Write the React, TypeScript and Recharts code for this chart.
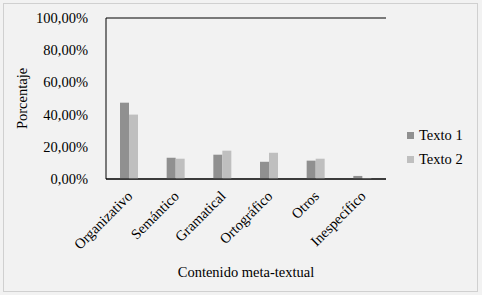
import { BarChart, Bar, XAxis, YAxis, CartesianGrid } from "recharts";

const categories = ["Organizativo", "Semántico", "Gramatical", "Ortográfico", "Otros", "Inespecífico"];
const texto1 = [47.4, 13.2, 15.1, 10.7, 11.4, 1.9];
const texto2 = [40.0, 12.6, 17.6, 16.3, 12.6, 0.6];
const yTicks = [0, 20, 40, 60, 80, 100];

const COLORS = {
  texto1: "#909090",
  texto2: "#bfbfbf"
};

const FONT = "Liberation Serif, Times New Roman, serif";

const data = categories.map((name, i) => ({
  name,
  t1: texto1[i],
  t2: texto2[i]
}));

const formatPct = (v: number) => `${v.toFixed(2).replace(".", ",")}%`;

const CategoryTick = (props: { x: number; y: number; payload: { value: string } }) => {
  const { x, y, payload } = props;
  return (
    <text
      x={x + 4}
      y={y + 10}
      textAnchor="end"
      style={{ fontFamily: FONT, fontSize: 14.5 }}
      fill="#000"
      transform={`rotate(-45, ${x + 4}, ${y + 10})`}
    >
      {payload.value}
    </text>
  );
};

const ValueTick = (props: { x: number; y: number; payload: { value: number } }) => {
  const { x, y, payload } = props;
  return (
    <text x={x} y={y} dy={5} textAnchor="end" fill="#000" style={{ fontFamily: FONT, fontSize: 14.5 }}>
      {formatPct(payload.value)}
    </text>
  );
};

const legendItems = [
  { label: "Texto 1", color: COLORS.texto1 },
  { label: "Texto 2", color: COLORS.texto2 }
];

export default function App() {
  return (
    <div
      style={{
        position: "fixed",
        left: 0,
        top: 0,
        width: 482,
        height: 295,
        background: "#f2f2f2",
        fontFamily: FONT
      }}
    >
      <div
        style={{
          position: "absolute",
          left: 3,
          top: 3,
          width: 475,
          height: 289,
          border: "1px solid #d0d0d0",
          boxSizing: "border-box"
        }}
      />
      <BarChart
        width={482}
        height={295}
        data={data}
        margin={{ top: 18, right: 96, left: 0, bottom: 0 }}
        barGap={0}
        barSize={9}
        style={{ fontFamily: FONT }}
      >
        <CartesianGrid vertical={false} stroke="#000" strokeWidth={1} />
        <XAxis
          dataKey="name"
          tick={CategoryTick}
          tickLine={false}
          axisLine={{ stroke: "#000" }}
          interval={0}
          height={116}
          label={{ value: "Contenido meta-textual", position: "insideBottom", offset: 18, style: { fontFamily: FONT, fontSize: 14.5, fill: "#000" } }}
        />
        <YAxis
          yAxisId="left"
          domain={[0, 100]}
          ticks={yTicks}
          tick={ValueTick}
          tickLine={false}
          axisLine={{ stroke: "#000" }}
          tickMargin={12}
          width={106}
          label={{ value: "Porcentaje", angle: -90, position: "insideLeft", offset: 22, style: { textAnchor: "middle", fontFamily: FONT, fontSize: 14.5, fill: "#000" } }}
        />
        <YAxis
          yAxisId="right"
          orientation="right"
          domain={[0, 100]}
          tick={false}
          tickLine={false}
          axisLine={{ stroke: "#000" }}
          width={0}
        />
        <Bar yAxisId="left" dataKey="t1" name="Texto 1" fill={COLORS.texto1} isAnimationActive={false} />
        <Bar yAxisId="left" dataKey="t2" name="Texto 2" fill={COLORS.texto2} isAnimationActive={false} />
      </BarChart>
      <div style={{ position: "absolute", left: 407, top: 123, fontSize: 14.5, color: "#000" }}>
        {legendItems.map(item => (
          <div key={item.label} style={{ display: "flex", alignItems: "center", height: 24 }}>
            <span style={{ width: 7, height: 7, background: item.color, marginRight: 5 }} />
            <span>{item.label}</span>
          </div>
        ))}
      </div>
    </div>
  );
}
